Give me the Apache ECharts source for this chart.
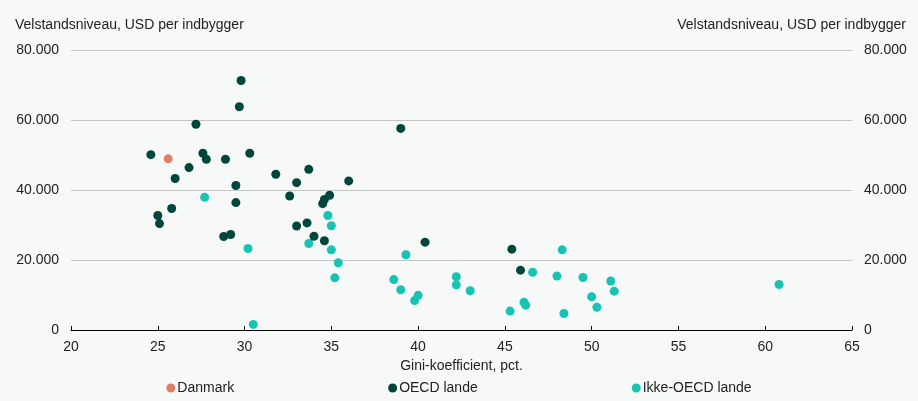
<!DOCTYPE html>
<html>
<head>
<meta charset="utf-8">
<script src="https://cdn.jsdelivr.net/npm/echarts@6/dist/echarts.min.js"></script>
<style>
html,body{margin:0;padding:0;background:#f7f9f9;}
#c{width:918px;height:401px;}
</style>
</head>
<body>
<div id="c"></div>
<script>
// Gini coefficient (x), GDP per capita USD (y)
const danmark = [[25.6, 48900]];
const oecdX = [29.8, 29.7, 27.2, 24.6, 27.6, 27.8, 28.9, 30.3, 26.8, 26.0, 31.8, 33.7, 33.0, 36.0, 29.5,
  32.6, 34.9, 34.6, 34.5, 29.5, 25.8, 25.0, 25.1, 33.0, 33.6, 34.0, 34.6, 28.8, 29.2,
  39.0, 40.4, 45.4, 45.9];
const oecdY = [71300, 63800, 58800, 50100, 50500, 48800, 48800, 50500, 46400, 43300, 44500, 45900, 42100, 42600, 41300,
  38300, 38500, 37300, 36100, 36400, 34700, 32700, 30400, 29700, 30600, 26800, 25500, 26700, 27300,
  57600, 25100, 23100, 17100];
const nonOecdX = [27.7, 34.8, 35.0, 33.7, 35.0, 30.2, 35.4, 35.2, 30.5,
  39.3, 38.6, 39.0, 40.0, 39.8, 42.2, 42.2, 43.0, 48.3, 46.6, 48.0, 49.5, 51.1, 51.3, 50.0, 50.3,
  46.1, 46.2, 45.3, 48.4, 60.8];
const nonOecdY = [37900, 32700, 29800, 24700, 22900, 23300, 19200, 14900, 1600,
  21500, 14400, 11500, 9900, 8400, 15200, 12900, 11200, 22900, 16500, 15400, 15000, 14000, 11100, 9500, 6500,
  7900, 7100, 5400, 4700, 13000];
const yTicks = [0, 20000, 40000, 60000, 80000];

const zip = (xs, ys) => xs.map((x, i) => [x, ys[i]]);
const fmt = v => v === 0 ? '0' : String(v).replace(/\B(?=(\d{3})+(?!\d))/g, '.');

const font = 'Liberation Sans, Arial, Helvetica, sans-serif';
const txt = '#222';
const fs = 14;
const chart = echarts.init(document.getElementById('c'));
const yAxisBase = {
  type: 'value', min: yTicks[0], max: yTicks[yTicks.length - 1], interval: yTicks[1] - yTicks[0],
  axisLine: {show: false}, axisTick: {show: false},
  axisLabel: {color: txt, fontSize: fs, fontFamily: font, formatter: fmt, margin: 12},
  nameGap: 18
};
chart.setOption({
  backgroundColor: '#f7f9f9',
  animation: false,
  textStyle: {fontFamily: font},
  grid: {left: 71, right: 66, top: 50, bottom: 71, containLabel: false},
  legend: {
    bottom: 1, left: 'center', itemGap: 154, itemWidth: 9, itemHeight: 9,
    icon: 'circle',
    textStyle: {color: txt, fontSize: fs, fontFamily: font, padding: [0, 0, 0, -3]},
    data: ['Danmark', 'OECD lande', 'Ikke-OECD lande']
  },
  xAxis: {
    type: 'value', min: 20, max: 65, interval: 5,
    name: 'Gini-koefficient, pct.', nameLocation: 'middle', nameGap: 29,
    nameTextStyle: {color: txt, fontSize: fs, fontFamily: font},
    axisLine: {show: true, lineStyle: {color: '#000', width: 1.2}},
    axisTick: {show: true, inside: true, length: 4, lineStyle: {color: '#000'}},
    axisLabel: {color: txt, fontSize: fs, fontFamily: font, margin: 10},
    splitLine: {show: false}
  },
  yAxis: [
    Object.assign({}, yAxisBase, {
      position: 'left', name: 'Velstandsniveau, USD per indbygger',
      nameTextStyle: {color: txt, fontSize: fs, fontFamily: font, align: 'left', padding: [0, 0, 0, -56]},
      splitLine: {show: true, lineStyle: {color: '#c4c4c4', width: 1}}
    }),
    Object.assign({}, yAxisBase, {
      position: 'right', name: 'Velstandsniveau, USD per indbygger',
      nameTextStyle: {color: txt, fontSize: fs, fontFamily: font, align: 'right', padding: [0, -54, 0, 0]},
      splitLine: {show: false}
    })
  ],
  series: [
    {name: 'OECD lande', type: 'scatter', symbolSize: 9, itemStyle: {color: '#00463a', opacity: 1}, data: zip(oecdX, oecdY), z: 3},
    {name: 'Ikke-OECD lande', type: 'scatter', symbolSize: 9, itemStyle: {color: '#17c3b2', opacity: 1}, data: zip(nonOecdX, nonOecdY), z: 2},
    {name: 'Danmark', type: 'scatter', symbolSize: 9, itemStyle: {color: '#e07f63', opacity: 1}, data: danmark, z: 4},
    {name: '_r', type: 'scatter', yAxisIndex: 1, data: [], silent: true}
  ]
});
</script>
</body>
</html>
